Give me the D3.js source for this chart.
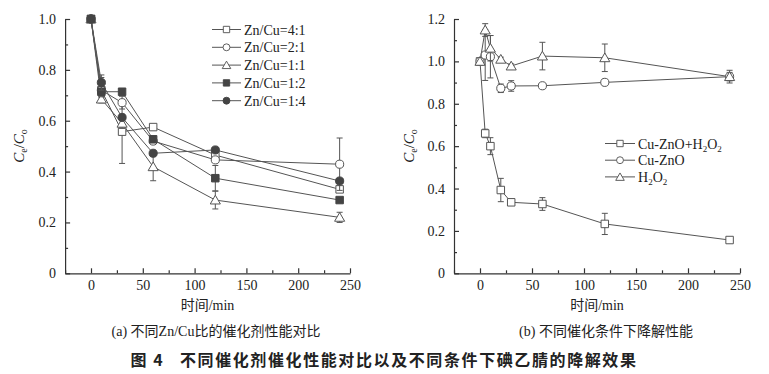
<!DOCTYPE html>
<html><head><meta charset="utf-8">
<script src="https://cdn.jsdelivr.net/npm/d3@7"></script>
<style>
body{margin:0;background:#fff;}
svg{display:block;}
text{font-family:"Liberation Serif","Noto Sans CJK SC",serif;fill:#222;}
</style></head>
<body><svg id="c" width="769" height="374"></svg>
<script>
// ---- Panel (a) data ----
const timeA = [0, 10, 30, 60, 120, 240];
const seriesA = ["Zn/Cu=4:1", "Zn/Cu=2:1", "Zn/Cu=1:1", "Zn/Cu=1:2", "Zn/Cu=1:4"];
const zn41 = [1.0, 0.72, 0.557, 0.575, 0.465, 0.330];
const zn21 = [1.0, 0.72, 0.671, 0.52, 0.446, 0.429];
const zn11 = [1.0, 0.685, 0.59, 0.419, 0.288, 0.220];
const zn12 = [1.0, 0.714, 0.714, 0.527, 0.374, 0.288];
const zn14 = [1.0, 0.750, 0.613, 0.472, 0.485, 0.363];
const err41 = [0, 0.03, 0.125, 0.01, 0.02, 0.01];
const err21 = [0, 0.05, 0.025, 0.01, 0.01, 0.103];
const err11 = [0, 0.01, 0.02, 0.055, 0.035, 0.02];
const err12 = [0, 0.02, 0.01, 0.01, 0.05, 0.01];
const err14 = [0, 0.03, 0.01, 0.01, 0.01, 0.01];
const yTicksA = [0, 0.2, 0.4, 0.6, 0.8, 1.0];

// ---- Panel (b) data ----
const timeB = [0, 5, 10, 20, 30, 60, 120, 240];
const seriesB = ["Cu-ZnO+H2O2", "Cu-ZnO", "H2O2"];
const cuznoH2o2 = [1.0, 0.66, 0.60, 0.393, 0.335, 0.327, 0.233, 0.157];
const errCuznoH2o2 = [0, 0.02, 0.04, 0.055, 0.01, 0.03, 0.05, 0.01];
const cuzno = [1.0, 1.03, 1.022, 0.873, 0.884, 0.885, 0.901, 0.928];
const errCuzno = [0, 0.12, 0.10, 0.02, 0.025, 0.01, 0.01, 0.02];
const h2o2 = [1.0, 1.148, 1.062, 1.01, 0.978, 1.025, 1.017, 0.928];
const errH2o2 = [0, 0.03, 0.06, 0.01, 0.01, 0.065, 0.065, 0.03];
const yTicksB = [0, 0.2, 0.4, 0.6, 0.8, 1.0, 1.2];

const xTicks = [0, 50, 100, 150, 200, 250];
const xMinor = [-25, 25, 75, 125, 175, 225];

const svg = d3.select("#c");
svg.append("rect").attr("width",769).attr("height",374).attr("fill","#fff");

const LINE = "#555", DARK = "#333";

function markerPath(shape){
  if(shape==="square") return d3.symbol(d3.symbolSquare, 56)();
  if(shape==="circle") return d3.symbol(d3.symbolCircle, 52)();
  return d3.symbol(d3.symbolTriangle, 44)();
}

function drawPanel(cfg){
  const g = svg.append("g");
  const x = d3.scaleLinear().domain([-25,250]).range(cfg.xr);
  const y = d3.scaleLinear().domain([0,cfg.ymax]).range([273.3,19]);

  g.append("g").attr("transform",`translate(0,${y(0)})`)
    .call(d3.axisBottom(x).tickValues(xTicks).tickSizeInner(-5).tickSizeOuter(0).tickPadding(7).tickFormat(d3.format("d")));
  g.append("g").attr("transform",`translate(0,${y(0)})`)
    .call(d3.axisBottom(x).tickValues(xMinor).tickSizeInner(-3).tickSizeOuter(0).tickFormat(""))
    .select(".domain").remove();
  g.append("g").attr("transform",`translate(${x(-25)},0)`)
    .call(d3.axisLeft(y).tickValues(cfg.yTicks).tickSizeInner(-5).tickSizeOuter(0).tickPadding(9)
      .tickFormat(d=> d===0 ? "0" : d3.format(".1f")(d)));
  const minorY = d3.range(0.1, cfg.ymax, 0.2);
  g.append("g").attr("transform",`translate(${x(-25)},0)`)
    .call(d3.axisLeft(y).tickValues(minorY).tickSizeInner(-3).tickSizeOuter(0).tickFormat(""))
    .select(".domain").remove();
  g.selectAll(".domain, .tick line").attr("stroke",DARK).attr("stroke-width",1.2);
  g.selectAll(".tick text").attr("font-size",14).attr("fill","#222")
    .style("font-family","'Liberation Serif',serif");

  g.append("text").attr("x",(cfg.xr[0]+cfg.xr[1])/2).attr("y",310)
    .attr("text-anchor","middle").attr("font-size",14).text("时间/min");
  const yl = g.append("text").attr("transform",`translate(${cfg.ylabX},146) rotate(-90)`)
    .attr("text-anchor","middle").attr("font-size",15);
  yl.append("tspan").attr("font-style","italic").text("C");
  yl.append("tspan").attr("font-size",10).attr("dy",3).text("e");
  yl.append("tspan").attr("dy",-3).text("/");
  yl.append("tspan").attr("font-style","italic").text("C");
  yl.append("tspan").attr("font-size",10).attr("dy",3).text("o");

  g.append("text").attr("x",cfg.capX).attr("y",336).attr("text-anchor","middle")
    .attr("font-size",14).text(cfg.caption);

  const line = d3.line().x(d=>x(d[0])).y(d=>y(d[1]));
  cfg.series.forEach(s=>{
    const pts = cfg.time.map((t,i)=>[t, s.vals[i], s.err[i]]);
    g.append("path").datum(pts).attr("d",line).attr("fill","none")
      .attr("stroke",LINE).attr("stroke-width",1);
  });
  cfg.series.forEach(s=>{
    const pts = cfg.time.map((t,i)=>[t, s.vals[i], s.err[i]]);
    const eb = g.append("g").attr("stroke",LINE).attr("stroke-width",1);
    pts.filter(p=>p[2]>0).forEach(p=>{
      const cx = x(p[0]);
      eb.append("line").attr("x1",cx).attr("x2",cx).attr("y1",y(p[1]-p[2])).attr("y2",y(p[1]+p[2]));
      eb.append("line").attr("x1",cx-3).attr("x2",cx+3).attr("y1",y(p[1]-p[2])).attr("y2",y(p[1]-p[2]));
      eb.append("line").attr("x1",cx-3).attr("x2",cx+3).attr("y1",y(p[1]+p[2])).attr("y2",y(p[1]+p[2]));
    });
    g.append("g").selectAll("path").data(pts).join("path")
      .attr("d",markerPath(s.shape))
      .attr("transform",d=>`translate(${x(d[0])},${y(d[1]) + (s.shape==="triangle"?1:0)})`)
      .attr("fill",s.filled?"#444":"#fff").attr("stroke",s.filled?"#444":LINE).attr("stroke-width",1);
  });

  const lg = g.append("g");
  cfg.series.forEach((s,i)=>{
    const ly = cfg.leg.y + i*cfg.leg.dy;
    lg.append("line").attr("x1",cfg.leg.x).attr("x2",cfg.leg.x+cfg.leg.w).attr("y1",ly).attr("y2",ly)
      .attr("stroke",LINE).attr("stroke-width",1);
    lg.append("path").attr("d",markerPath(s.shape))
      .attr("transform",`translate(${cfg.leg.x+cfg.leg.w/2},${ly+(s.shape==="triangle"?1:0)}) scale(0.85)`)
      .attr("fill",s.filled?"#444":"#fff").attr("stroke",s.filled?"#444":LINE).attr("stroke-width",1.1);
    const t = lg.append("text").attr("x",cfg.leg.x+cfg.leg.w+3).attr("y",ly+5).attr("font-size",14);
    if(s.sub){
      let inSub=false;
      s.name.split("").forEach(ch=>{
        if(ch==="2"){ t.append("tspan").attr("font-size",9).attr("dy",3).text("2"); inSub=true; }
        else { const ts=t.append("tspan").text(ch); if(inSub){ts.attr("dy",-3); inSub=false;} }
      });
    } else t.text(s.name);
  });
}

drawPanel({
  xr:[65.1,350], ymax:1.0, yTicks:yTicksA, ylabX:24, capX:216, caption:"(a) 不同Zn/Cu比的催化剂性能对比",
  time:timeA,
  series:[
    {name:seriesA[0], vals:zn41, err:err41, shape:"square", filled:false},
    {name:seriesA[1], vals:zn21, err:err21, shape:"circle", filled:false},
    {name:seriesA[2], vals:zn11, err:err11, shape:"triangle", filled:false},
    {name:seriesA[3], vals:zn12, err:err12, shape:"square", filled:true},
    {name:seriesA[4], vals:zn14, err:err14, shape:"circle", filled:true}
  ],
  leg:{x:212, y:29.5, dy:17.8, w:29}
});
drawPanel({
  xr:[454,740], ymax:1.2, yTicks:yTicksB, ylabX:414, capX:606, caption:"(b) 不同催化条件下降解性能",
  time:timeB,
  series:[
    {name:seriesB[0], vals:cuznoH2o2, err:errCuznoH2o2, shape:"square", filled:false, sub:true},
    {name:seriesB[1], vals:cuzno, err:errCuzno, shape:"circle", filled:false},
    {name:seriesB[2], vals:h2o2, err:errH2o2, shape:"triangle", filled:false, sub:true}
  ],
  leg:{x:605, y:143.5, dy:16.7, w:30}
});

svg.append("text").attr("x",384).attr("y",366).attr("text-anchor","middle")
  .attr("font-size",16).attr("font-weight","bold").attr("letter-spacing","1.6px")
  .style("font-family","'Noto Sans CJK SC',sans-serif").style("white-space","pre")
  .text("图 4   不同催化剂催化性能对比以及不同条件下碘乙腈的降解效果");
</script></body></html>
